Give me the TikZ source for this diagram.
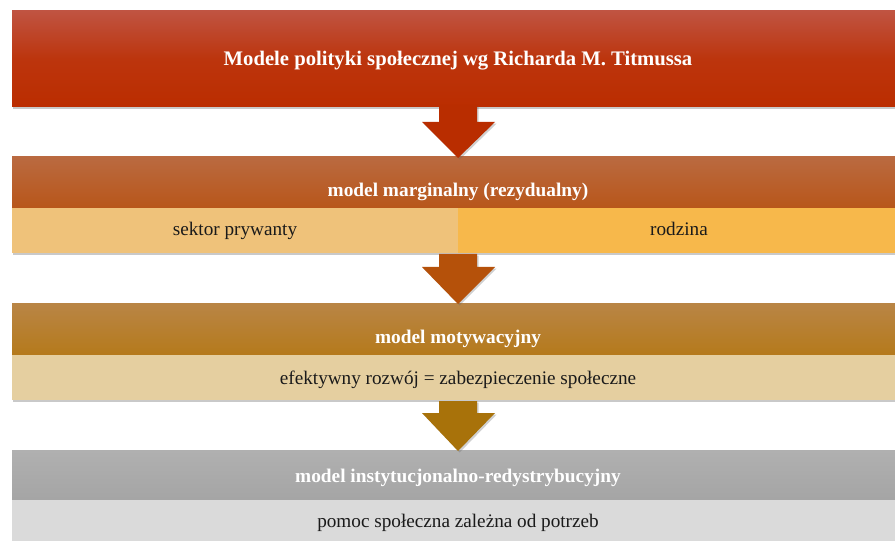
\documentclass[tikz,border=0pt]{standalone}
\usepackage{fontspec}
\setmainfont{Liberation Serif}
\usetikzlibrary{shadows,fit}
\definecolor{tTop}{HTML}{C05442}
\definecolor{tBot}{HTML}{BB2D00}
\definecolor{hATop}{HTML}{BA6A40}
\definecolor{hABot}{HTML}{B8561A}
\definecolor{sAL}{HTML}{EFC27A}
\definecolor{sAR}{HTML}{F7B84B}
\definecolor{hBTop}{HTML}{B98545}
\definecolor{hBBot}{HTML}{B57A1C}
\definecolor{sB}{HTML}{E5CFA0}
\definecolor{hCTop}{HTML}{B0B0B0}
\definecolor{hCBot}{HTML}{A5A5A5}
\definecolor{sC}{HTML}{DADADA}
\definecolor{arA}{HTML}{B92D00}
\definecolor{arB}{HTML}{B5510A}
\definecolor{arC}{HTML}{A8720A}
\definecolor{txt}{HTML}{1A1A1A}
\tikzset{
  boxshadow/.style={drop shadow={shadow xshift=0.6pt, shadow yshift=-1.6pt, opacity=0.35, fill=black!60}},
  panel/.style={inner sep=0pt, outer sep=0pt, draw=none},
  headtext/.style={text=white, font=\bfseries\fontsize{14.5}{16}\selectfont, inner sep=0pt, anchor=base},
  titletext/.style={text=white, font=\bfseries\fontsize{15.5}{18}\selectfont, inner sep=0pt, anchor=base},
  subtext/.style={text=txt, font=\fontsize{14.4}{16}\selectfont, inner sep=0pt, anchor=base},
  blockarrow/.style={draw=none, drop shadow={shadow xshift=1.2pt, shadow yshift=-1.2pt, opacity=0.3, fill=black!60}}
}
\begin{document}
\begin{tikzpicture}[x=0.75pt,y=-0.75pt]
\clip (0,0) rectangle (895,541);
\fill[white] (0,0) rectangle (895,541);

% title box
\node[panel, boxshadow, fit={(12,10.5) (910,107)}, top color=tTop, bottom color=tBot, middle color=tBot!80!tTop, shading angle=0] (title) {};
\node[titletext] (titleT) at (458,65.5) {Modele polityki społecznej wg Richarda M. Titmussa};

% model 1
\node[panel, boxshadow, fit={(12,157) (910,253)}, fill=sAR] (box1) {};
\node[panel, fit={(12,157) (910,208)}, top color=hATop, bottom color=hABot] (head1) {};
\node[panel, fit={(12,208) (458,253)}, fill=sAL] (sub1L) {};
\node[panel, fit={(458,208) (910,253)}, fill=sAR] (sub1R) {};
\node[headtext] (head1T) at (458,197) {model marginalny (rezydualny)};
\node[subtext] (sub1LT) at (235,236) {sektor prywanty};
\node[subtext] (sub1RT) at (679,236) {rodzina};

% model 2
\node[panel, boxshadow, fit={(12,304) (910,400)}, fill=sB] (box2) {};
\node[panel, fit={(12,304) (910,354)}, top color=hBTop, bottom color=hBBot] (head2) {};
\node[subtext] (sub2T) at (458,384) {efektywny rozwój = zabezpieczenie społeczne};
\node[headtext] (head2T) at (458,344) {model motywacyjny};

% model 3
\node[panel, boxshadow, fit={(12,450) (910,560)}, fill=sC] (box3) {};
\node[panel, fit={(12,450) (910,499)}, top color=hCTop, bottom color=hCBot] (head3) {};
\node[headtext] (head3T) at (458,482) {model instytucjonalno-redystrybucyjny};
\node[subtext] (sub3T) at (458,527.5) {pomoc społeczna zależna od potrzeb};

% block arrows
\fill[arA, blockarrow] (439,105) -- (477,105) -- (477,122) -- (495,122) -- (458,158) -- (422,122) -- (439,122) -- cycle;
\fill[arB, blockarrow] (439,254) -- (477,254) -- (477,267) -- (495,267) -- (458,304) -- (422,267) -- (439,267) -- cycle;
\fill[arC, blockarrow] (439,401) -- (477,401) -- (477,413) -- (495,413) -- (458,451) -- (422,413) -- (439,413) -- cycle;
\end{tikzpicture}
\end{document}
